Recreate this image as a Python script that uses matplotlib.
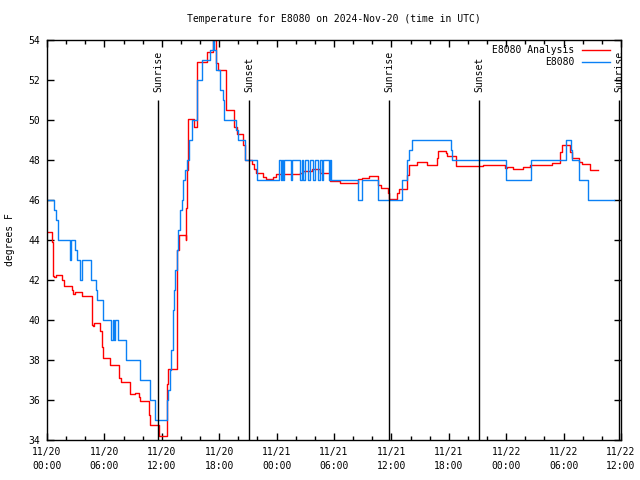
import pandas as pd
import numpy as np
import matplotlib
matplotlib.use('Agg')
import matplotlib.pyplot as plt
import matplotlib.dates as mdates

# hours after 2024-11-20 00:00 UTC, step values (deg F)
obs_hours = [0.00, 0.76, 0.94, 1.12, 2.37, 2.51, 2.96, 3.10, 3.48, 3.62,
             4.57, 5.12, 5.23, 5.85, 6.66, 6.86, 7.00, 7.14, 7.45, 8.26,
             9.75, 10.80, 11.32, 12.51, 12.68, 12.86, 12.96, 13.14, 13.20, 13.31,
             13.41, 13.56, 13.72, 13.90, 14.08, 14.25, 14.43, 14.63, 14.84, 15.12,
             15.65, 16.17, 17.04, 17.32, 17.49, 17.67, 18.08, 18.36, 18.54, 19.72,
             20.00, 20.70, 21.98, 24.30, 24.41, 24.56, 24.64, 24.80, 25.50, 25.61,
             26.45, 26.65, 26.76, 26.97, 27.33, 27.49, 27.81, 28.01, 28.33, 28.54,
             28.75, 28.85, 29.48, 29.55, 29.69, 32.48, 32.90, 34.63, 37.08, 37.66,
             37.84, 38.18, 42.20, 42.37, 47.95, 50.56, 54.25, 54.77, 54.91, 55.58,
             56.52, 59.30]
obs_temp = [46, 45.5, 45, 44, 43, 44, 43.5, 43, 42, 43,
            42, 41.5, 41, 40, 39, 40, 39, 40, 39, 38,
            37, 36, 35, 36, 36.5, 37.5, 38.5, 39.5, 40.5, 41.5,
            42.5, 43.5, 44.5, 45.5, 46, 47, 47.5, 48, 49, 50,
            52, 53, 53.5, 54, 53.5, 52.5, 51.5, 51, 50, 49.5,
            49, 48, 47, 48, 47, 48, 47, 48, 47, 48,
            47, 48, 47, 48, 47, 48, 47, 48, 47, 48,
            47, 48, 47, 48, 47, 46, 47, 46, 47, 48,
            48.5, 49, 48.5, 48, 47, 48, 49, 48.5, 48, 47,
            46, 46]

ana_hours = [0.00, 0.55, 0.66, 0.76, 0.94, 1.60, 1.75, 2.58, 2.75, 2.93,
             3.63, 4.67, 4.78, 4.94, 5.57, 5.75, 5.89, 6.62, 7.56, 7.77,
             8.68, 9.23, 9.59, 9.75, 10.63, 10.80, 11.68, 11.74, 12.58, 12.70,
             13.62, 13.80, 14.50, 14.53, 14.63, 14.77, 15.37, 15.64, 16.69, 17.32,
             17.67, 17.84, 18.68, 19.58, 19.83, 20.52, 20.70, 21.46, 21.64, 21.85,
             22.61, 22.89, 23.65, 23.94, 26.45, 26.79, 27.67, 28.54, 29.58, 30.63,
             32.54, 32.90, 33.69, 34.63, 34.88, 35.68, 35.78, 36.62, 36.83, 37.66,
             37.84, 38.64, 39.69, 40.74, 40.90, 41.68, 41.84, 42.75, 45.61, 47.87,
             48.05, 48.74, 49.79, 50.49, 52.76, 53.63, 53.81, 54.67, 54.85, 55.64,
             55.89, 56.76, 57.63]
ana_temp = [44.38, 43.9, 42.2, 42.15, 42.25, 42.0, 41.7, 41.5, 41.28, 41.4,
            41.2, 39.75, 39.7, 39.83, 39.47, 38.67, 38.08, 37.73, 37.08, 36.9,
            36.28, 36.33, 36.17, 35.97, 35.25, 34.73, 34.47, 34.2, 36.8, 37.53,
            43.5, 44.25, 44.0, 45.6, 47.5, 50.05, 49.67, 52.88, 53.42, 54.0,
            52.83, 52.5, 50.5, 49.67, 49.28, 48.75, 48.0, 47.8, 47.53, 47.33,
            47.17, 47.03, 47.17, 47.28, 47.37, 47.47, 47.53, 47.37, 46.95, 46.87,
            47.03, 47.08, 47.2, 46.75, 46.58, 46.33, 46.03, 46.37, 46.53, 47.25,
            47.75, 47.92, 47.75, 48.08, 48.47, 48.33, 48.2, 47.7, 47.75, 47.6,
            47.67, 47.55, 47.67, 47.75, 47.83, 48.42, 48.75, 48.42, 48.08, 47.92,
            47.78, 47.5, 47.5]

sun_hours = [11.63, 21.13, 35.77, 45.18, 59.81]
sun_labels = ['Sunrise', 'Sunset', 'Sunrise', 'Sunset', 'Sunrise']

start = pd.Timestamp('2024-11-20 00:00')
def to_time(h):
    return start + pd.to_timedelta(np.array(h), unit='h')

plt.rcParams['font.family'] = ['DejaVu Sans Mono']
plt.rcParams['font.size'] = 7

fig = plt.figure(figsize=(6.4, 4.8), dpi=100)
ax = fig.add_axes([47/640, 40/480, 574/640, 400/480])

ax.step(to_time(ana_hours), ana_temp, where='post', color='#ff0000', lw=1.0, label='E8080 Analysis')
ax.step(to_time(obs_hours), obs_temp, where='post', color='#0a80f5', lw=1.0, label='E8080')

for h, lab in zip(sun_hours, sun_labels):
    t = to_time([h])[0]
    ax.vlines(t, 34, 51, color='black', lw=1.0)
    ax.text(t, 51.4, lab, rotation=90, ha='center', va='bottom')

ax.set_xlim(start, start + pd.Timedelta(hours=60))
ax.set_ylim(34, 54)
ax.set_yticks(np.arange(34, 55, 2))
ax.xaxis.set_major_locator(mdates.HourLocator(byhour=range(0, 24, 6)))
ax.xaxis.set_minor_locator(mdates.HourLocator(byhour=range(0, 24, 2)))
ax.xaxis.set_major_formatter(mdates.DateFormatter('%m/%d\n%H:%M'))
ax.tick_params(which='both', direction='in', top=True, right=True, width=1)
ax.tick_params(which='major', length=5)
ax.tick_params(which='minor', length=3)
ax.tick_params(axis='x', pad=5)
ax.tick_params(axis='y', pad=5)
for lbl in ax.get_xticklabels():
    lbl.set_linespacing(1.5)
for s in ax.spines.values():
    s.set_linewidth(1)

ax.legend(loc='upper right', frameon=False, markerfirst=False, handlelength=2.8,
          handletextpad=0.8, labelspacing=0.2, borderaxespad=0.3,
          bbox_to_anchor=(0.992, 1.004))

fig.text(10/640, 0.5, 'degrees F', rotation=90, ha='center', va='center')
fig.text(334/640, 1 - 18.5/480, 'Temperature for E8080 on 2024-Nov-20 (time in UTC)',
         ha='center', va='center')

fig.savefig('out.png', dpi=100)
